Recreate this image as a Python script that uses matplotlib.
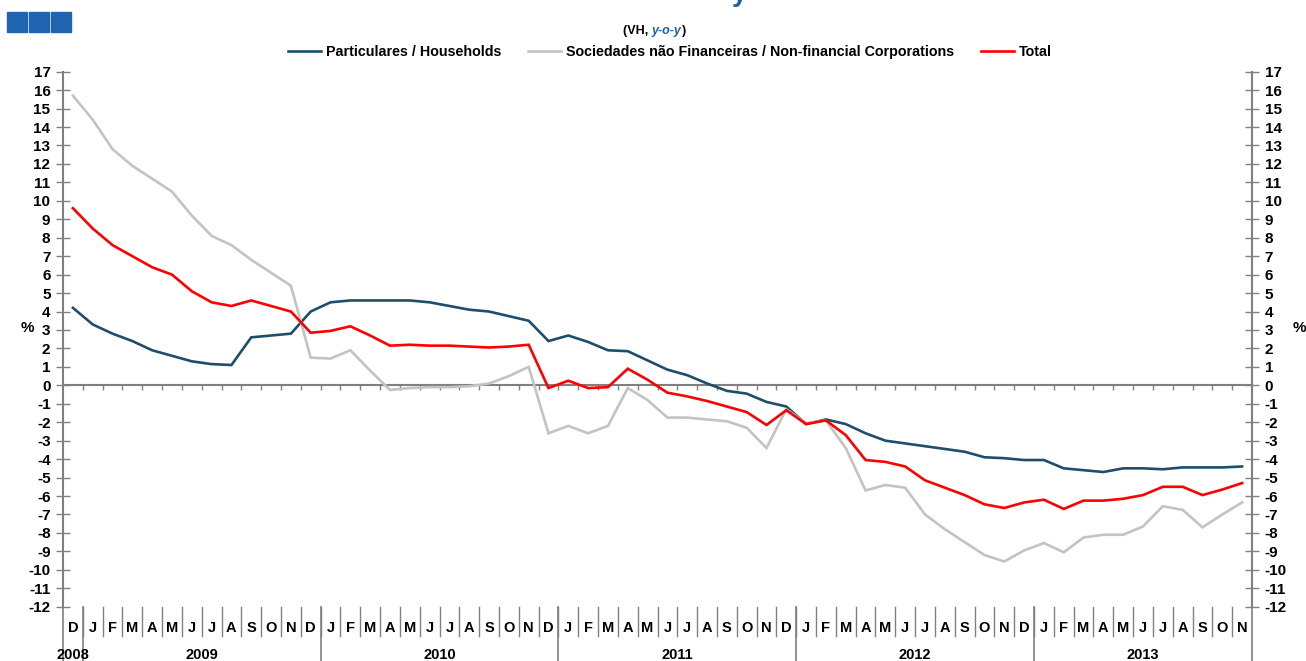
import numpy as np
import matplotlib
matplotlib.use('Agg')
import matplotlib.pyplot as plt
from matplotlib.patches import Rectangle
from matplotlib.text import Annotation
import matplotlib.transforms as mtransforms

plt.rcParams['font.family'] = ['Liberation Sans', 'DejaVu Sans']
plt.rcParams['axes.unicode_minus'] = False

# ---------------- data ----------------
months = ['D'] + list('JFMAMJJASOND') * 4 + list('JFMAMJJASON')
years = ['2008', '2009', '2010', '2011', '2012', '2013']
year_centers = [0, 6.5, 18.5, 30.5, 42.5, 54]
year_bounds = [0.5, 12.5, 24.5, 36.5, 48.5]

households = [4.2, 3.3, 2.8, 2.4, 1.9, 1.6, 1.3, 1.15, 1.1, 2.6, 2.7, 2.8,
              4.0, 4.5, 4.6, 4.6, 4.6, 4.6, 4.5, 4.3, 4.1, 4.0, 3.75, 3.5,
              2.4, 2.7, 2.35, 1.9, 1.85, 1.35, 0.85, 0.55, 0.1, -0.3, -0.45, -0.9,
              -1.15, -2.1, -1.85, -2.1, -2.6, -3.0, -3.15, -3.3, -3.45, -3.6, -3.9, -3.95,
              -4.05, -4.05, -4.5, -4.6, -4.7, -4.5, -4.5, -4.55, -4.45, -4.45, -4.45, -4.4]

nonfin = [15.7, 14.4, 12.8, 11.9, 11.2, 10.5, 9.2, 8.1, 7.6, 6.8, 6.1, 5.4,
          1.5, 1.45, 1.9, 0.8, -0.25, -0.15, -0.1, -0.1, -0.05, 0.1, 0.5, 1.0,
          -2.6, -2.2, -2.6, -2.2, -0.15, -0.8, -1.75, -1.75, -1.85, -1.95, -2.3, -3.4,
          -1.3, -2.05, -1.9, -3.4, -5.7, -5.4, -5.55, -7.0, -7.8, -8.5, -9.2, -9.55,
          -8.95, -8.55, -9.05, -8.25, -8.1, -8.1, -7.65, -6.55, -6.75, -7.7, -7.0, -6.35]

total = [9.6, 8.5, 7.6, 7.0, 6.4, 6.0, 5.1, 4.5, 4.3, 4.6, 4.3, 4.0,
         2.85, 2.95, 3.2, 2.7, 2.15, 2.2, 2.15, 2.15, 2.1, 2.05, 2.1, 2.2,
         -0.15, 0.25, -0.15, -0.1, 0.9, 0.3, -0.4, -0.6, -0.85, -1.15, -1.45, -2.15,
         -1.35, -2.1, -1.9, -2.7, -4.05, -4.15, -4.4, -5.15, -5.55, -5.95, -6.45, -6.65,
         -6.35, -6.2, -6.7, -6.25, -6.25, -6.15, -5.95, -5.5, -5.5, -5.95, -5.65, -5.3]

series_labels = ['Particulares / Households',
                 'Sociedades não Financeiras / Non-financial Corporations',
                 'Total']
series_colors = ['#1F4E6B', '#C3C3C3', '#FF0000']

# ---------------- figure ----------------
W, H = 1306, 661
fig = plt.figure(figsize=(W / 100, H / 100), dpi=100)
ax_l, ax_r, ax_t, ax_b = 63, 1252, 71.7, 606.7
ax = fig.add_axes([ax_l / W, 1 - ax_b / H, (ax_r - ax_l) / W, (ax_b - ax_t) / H])

x = np.arange(len(months))
axis_grey = '#808080'

ax.axhline(0, color=axis_grey, lw=1.5, zorder=1)
bounds = np.arange(0.5, len(months) - 1, 1)
ax.vlines(bounds, -0.27, 0, color=axis_grey, lw=1, zorder=1)

for vals, lab, col in zip([households, nonfin, total], series_labels, series_colors):
    ax.plot(x, vals, color=col, lw=1.9, label=lab, zorder=3, solid_joinstyle='miter')

ax.set_xlim(-0.5, len(months) - 0.5)
ax.set_ylim(-12, 17)
ax.set_yticks(np.arange(-12, 18, 1))
ax.set_xticks([])

for s in ['top', 'bottom']:
    ax.spines[s].set_visible(False)
for s in ['left', 'right']:
    ax.spines[s].set_color(axis_grey)
    ax.spines[s].set_linewidth(1.5)

ax.tick_params(axis='y', which='both', direction='inout', length=10, width=1,
               color=axis_grey, left=True, right=True, labelleft=True, labelright=True,
               labelsize=11, pad=4)
for lbl in ax.get_yticklabels():
    lbl.set_fontweight('bold')

trans = mtransforms.blended_transform_factory(ax.transData, ax.transAxes)
hax = ax_b - ax_t
sep_bot = -(636 - ax_b) / hax
fig_bot = -(H - ax_b) / hax - 0.01

for b in bounds:
    ax.plot([b, b], [0, sep_bot], transform=trans, clip_on=False, color=axis_grey, lw=1)
for b in year_bounds + [-0.5, len(months) - 0.5]:
    ax.plot([b, b], [0, fig_bot], transform=trans, clip_on=False, color=axis_grey, lw=1.2)

for i, m in enumerate(months):
    ax.text(i, -(628 - ax_b) / hax, m, transform=trans, ha='center', va='center',
            fontsize=10.5, fontweight='bold', color='black')
for yc, yl in zip(year_centers, years):
    ax.text(yc, -(655 - ax_b) / hax, yl, transform=trans, ha='center', va='center',
            fontsize=10.5, fontweight='bold', color='black')

fig.text(27 / W, 1 - 328 / H, '%', ha='center', va='center', fontsize=11, fontweight='bold')
fig.text(1299 / W, 1 - 328 / H, '%', ha='center', va='center', fontsize=11, fontweight='bold')

# legend
fig.legend(loc='center', bbox_to_anchor=(670 / W, 1 - 52 / H), ncol=3, frameon=False,
           prop={'weight': 'bold', 'size': 10.3}, handlelength=2.3, handletextpad=0.35,
           columnspacing=1.9)

# subtitle
t1 = fig.text(652 / W, 1 - 31 / H, '(VH, ', ha='right', va='center', fontsize=9,
              fontweight='bold', color='black')
a2 = fig.add_artist(Annotation('y-o-y', xy=(1, 0), xycoords=t1,
                    ha='left', va='bottom', fontsize=9, fontweight='bold',
                    fontstyle='italic', color='#1F5FA6'))
a3 = fig.add_artist(Annotation(')', xy=(1, 0), xycoords=a2,
                    ha='left', va='bottom', fontsize=9, fontweight='bold', color='black'))

# clipped title fragment (title runs off the top edge in the original)
fig.text(740 / W, 1 - 1 / H, 'y', ha='center', va='baseline', fontsize=20,
         fontweight='bold', color='#1F5FA6')

# logo
for lx in [7, 29, 51]:
    fig.patches.append(Rectangle((lx / W, 1 - 32 / H), 20 / W, 20 / H,
                                 transform=fig.transFigure, color='#1F64AE'))

fig.savefig('out.png', dpi=100)
